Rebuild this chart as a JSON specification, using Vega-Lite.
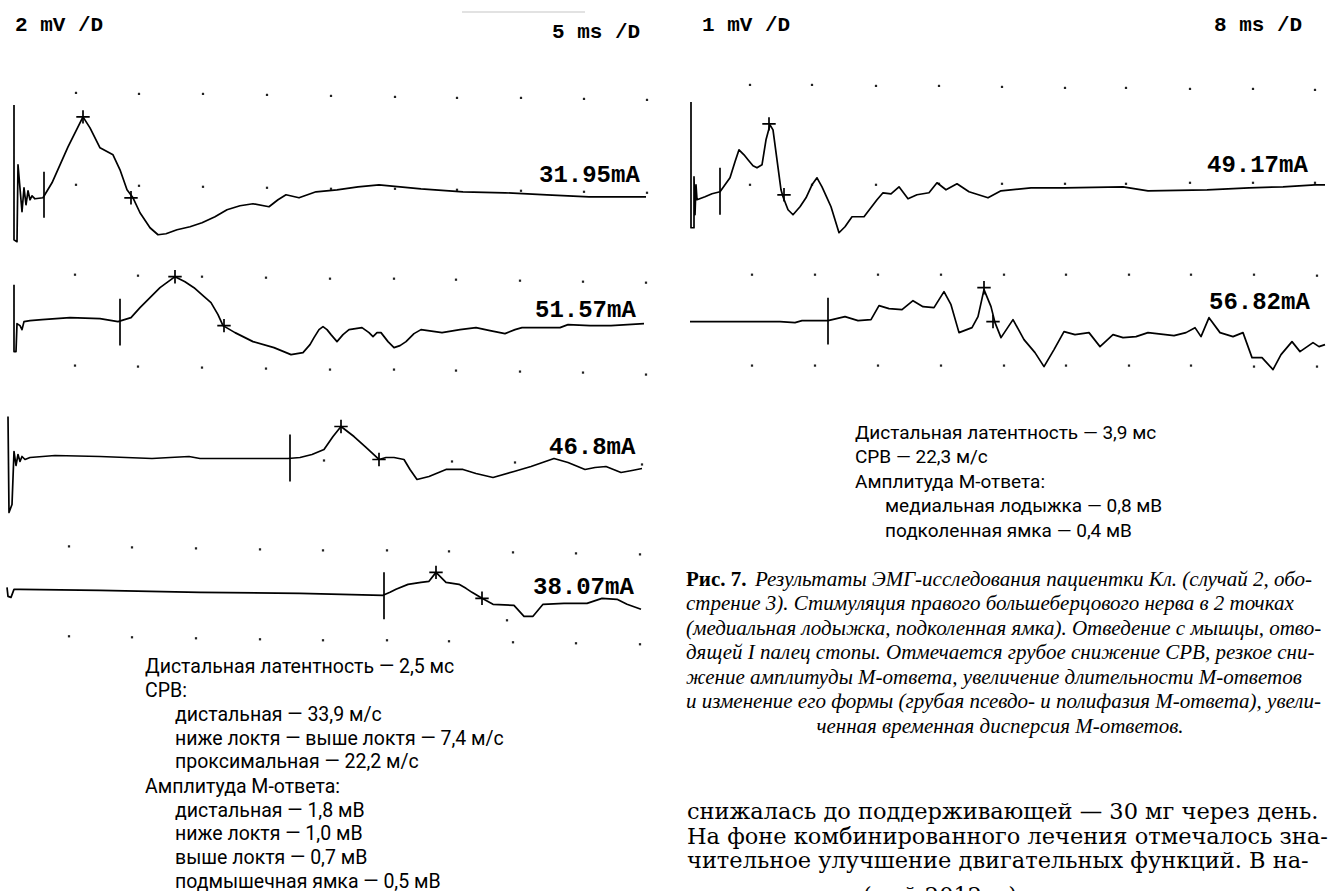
{
  "$schema": "https://vega.github.io/schema/vega-lite/v6.json",
  "width": 1329,
  "height": 892,
  "autosize": {"type": "fit", "contains": "padding"},
  "padding": 0,
  "background": "white",
  "config": {"view": {"stroke": null}},
  "datasets": {
    "dots": [
      {"x":76,"y":93},{"x":139,"y":94},{"x":203,"y":94},{"x":267,"y":95},{"x":331,"y":96},{"x":395,"y":97},{"x":457,"y":98},{"x":521,"y":98},{"x":584,"y":99},{"x":647,"y":100},
      {"x":76,"y":185},{"x":139,"y":186},{"x":203,"y":187},{"x":267,"y":188},{"x":331,"y":189},{"x":395,"y":189},{"x":457,"y":190},{"x":521,"y":191},{"x":584,"y":192},{"x":647,"y":193},
      {"x":75,"y":275},{"x":138,"y":276},{"x":202,"y":277},{"x":266,"y":278},{"x":330,"y":279},{"x":394,"y":279},{"x":456,"y":280},{"x":520,"y":281},{"x":583,"y":282},{"x":646,"y":283},
      {"x":75,"y":366},{"x":138,"y":367},{"x":202,"y":368},{"x":266,"y":369},{"x":330,"y":370},{"x":394,"y":370},{"x":456,"y":371},{"x":520,"y":372},{"x":583,"y":373},{"x":646,"y":375},
      {"x":324,"y":461},{"x":452,"y":462},{"x":515,"y":463},{"x":642,"y":465},
      {"x":69,"y":547},{"x":132,"y":548},{"x":196,"y":549},{"x":260,"y":550},{"x":323,"y":551},{"x":387,"y":551},{"x":449,"y":552},{"x":513,"y":553},{"x":576,"y":554},{"x":640,"y":555},
      {"x":507,"y":621},
      {"x":69,"y":637},{"x":132,"y":638},{"x":196,"y":639},{"x":260,"y":640},{"x":323,"y":641},{"x":387,"y":641},{"x":449,"y":642},{"x":513,"y":643},{"x":576,"y":644},{"x":640,"y":645},
      {"x":750,"y":85},{"x":812,"y":85},{"x":876,"y":86},{"x":939,"y":86},{"x":1002,"y":87},{"x":1065,"y":88},{"x":1126,"y":88},{"x":1190,"y":89},{"x":1253,"y":89},{"x":1315,"y":90},
      {"x":750,"y":185},{"x":812,"y":185},{"x":876,"y":185},{"x":939,"y":184},{"x":1002,"y":184},{"x":1065,"y":184},{"x":1126,"y":184},{"x":1190,"y":183},{"x":1253,"y":183},{"x":1315,"y":183},
      {"x":752,"y":275},{"x":815,"y":275},{"x":878,"y":275},{"x":941,"y":275},{"x":1004,"y":275},{"x":1066,"y":275},{"x":1129,"y":275},{"x":1191,"y":275},{"x":1254,"y":275},{"x":1317,"y":276},
      {"x":752,"y":366},{"x":815,"y":366},{"x":878,"y":366},{"x":941,"y":366},{"x":1004,"y":366},{"x":1066,"y":366},{"x":1129,"y":366},{"x":1191,"y":366},{"x":1254,"y":367},{"x":1317,"y":367}
    ],
    "traces": [
      {"t":"A","i":0,"x":14,"y":105},{"t":"A","i":1,"x":14,"y":240},{"t":"A","i":2,"x":17,"y":242},{"t":"A","i":3,"x":18,"y":165},{"t":"A","i":4,"x":22,"y":212},{"t":"A","i":5,"x":24,"y":188},{"t":"A","i":6,"x":26,"y":205},{"t":"A","i":7,"x":28,"y":191},{"t":"A","i":8,"x":30,"y":200},{"t":"A","i":9,"x":32,"y":196},{"t":"A","i":10,"x":35,"y":199},{"t":"A","i":11,"x":43,"y":198},{"t":"A","i":12,"x":52,"y":183},{"t":"A","i":13,"x":60,"y":165},{"t":"A","i":14,"x":68,"y":147},{"t":"A","i":15,"x":76,"y":131},{"t":"A","i":16,"x":83,"y":117},{"t":"A","i":17,"x":90,"y":128},{"t":"A","i":18,"x":100,"y":148},{"t":"A","i":19,"x":113,"y":155},{"t":"A","i":20,"x":120,"y":170},{"t":"A","i":21,"x":127,"y":190},{"t":"A","i":22,"x":133,"y":198},{"t":"A","i":23,"x":140,"y":213},{"t":"A","i":24,"x":150,"y":228},{"t":"A","i":25,"x":158,"y":235},{"t":"A","i":26,"x":166,"y":234},{"t":"A","i":27,"x":177,"y":230},{"t":"A","i":28,"x":190,"y":227},{"t":"A","i":29,"x":202,"y":223},{"t":"A","i":30,"x":215,"y":217},{"t":"A","i":31,"x":227,"y":210},{"t":"A","i":32,"x":240,"y":206},{"t":"A","i":33,"x":253,"y":204},{"t":"A","i":34,"x":269,"y":207},{"t":"A","i":35,"x":278,"y":200},{"t":"A","i":36,"x":286,"y":195},{"t":"A","i":37,"x":299,"y":198},{"t":"A","i":38,"x":316,"y":192},{"t":"A","i":39,"x":337,"y":190},{"t":"A","i":40,"x":358,"y":187},{"t":"A","i":41,"x":379,"y":185},{"t":"A","i":42,"x":400,"y":187},{"t":"A","i":43,"x":421,"y":189},{"t":"A","i":44,"x":463,"y":192},{"t":"A","i":45,"x":505,"y":193},{"t":"A","i":46,"x":547,"y":195},{"t":"A","i":47,"x":589,"y":197},{"t":"A","i":48,"x":646,"y":197},
      {"t":"B","i":0,"x":14,"y":285},{"t":"B","i":1,"x":14,"y":352},{"t":"B","i":2,"x":16,"y":352},{"t":"B","i":3,"x":17,"y":324},{"t":"B","i":4,"x":20,"y":326},{"t":"B","i":5,"x":22,"y":330},{"t":"B","i":6,"x":24,"y":322},{"t":"B","i":7,"x":30,"y":321},{"t":"B","i":8,"x":42,"y":320},{"t":"B","i":9,"x":70,"y":318},{"t":"B","i":10,"x":100,"y":319},{"t":"B","i":11,"x":118,"y":322},{"t":"B","i":12,"x":131,"y":318},{"t":"B","i":13,"x":140,"y":308},{"t":"B","i":14,"x":148,"y":300},{"t":"B","i":15,"x":160,"y":288},{"t":"B","i":16,"x":175,"y":277},{"t":"B","i":17,"x":185,"y":282},{"t":"B","i":18,"x":194,"y":288},{"t":"B","i":19,"x":203,"y":296},{"t":"B","i":20,"x":211,"y":303},{"t":"B","i":21,"x":218,"y":315},{"t":"B","i":22,"x":223,"y":326},{"t":"B","i":23,"x":235,"y":333},{"t":"B","i":24,"x":253,"y":342},{"t":"B","i":25,"x":274,"y":348},{"t":"B","i":26,"x":291,"y":355},{"t":"B","i":27,"x":303,"y":353},{"t":"B","i":28,"x":310,"y":345},{"t":"B","i":29,"x":314,"y":338},{"t":"B","i":30,"x":319,"y":330},{"t":"B","i":31,"x":323,"y":327},{"t":"B","i":32,"x":327,"y":330},{"t":"B","i":33,"x":331,"y":335},{"t":"B","i":34,"x":337,"y":342},{"t":"B","i":35,"x":343,"y":335},{"t":"B","i":36,"x":349,"y":330},{"t":"B","i":37,"x":362,"y":328},{"t":"B","i":38,"x":369,"y":333},{"t":"B","i":39,"x":373,"y":337},{"t":"B","i":40,"x":377,"y":333},{"t":"B","i":41,"x":381,"y":333},{"t":"B","i":42,"x":388,"y":342},{"t":"B","i":43,"x":394,"y":348},{"t":"B","i":44,"x":400,"y":346},{"t":"B","i":45,"x":406,"y":342},{"t":"B","i":46,"x":414,"y":334},{"t":"B","i":47,"x":421,"y":330},{"t":"B","i":48,"x":442,"y":333},{"t":"B","i":49,"x":460,"y":330},{"t":"B","i":50,"x":476,"y":328},{"t":"B","i":51,"x":490,"y":331},{"t":"B","i":52,"x":505,"y":334},{"t":"B","i":53,"x":515,"y":330},{"t":"B","i":54,"x":522,"y":328},{"t":"B","i":55,"x":545,"y":328},{"t":"B","i":56,"x":560,"y":328},{"t":"B","i":57,"x":568,"y":325},{"t":"B","i":58,"x":590,"y":326},{"t":"B","i":59,"x":611,"y":326},{"t":"B","i":60,"x":644,"y":324},
      {"t":"C","i":0,"x":8,"y":417},{"t":"C","i":1,"x":9,"y":513},{"t":"C","i":2,"x":12,"y":505},{"t":"C","i":3,"x":14,"y":452},{"t":"C","i":4,"x":16,"y":466},{"t":"C","i":5,"x":18,"y":455},{"t":"C","i":6,"x":20,"y":462},{"t":"C","i":7,"x":22,"y":457},{"t":"C","i":8,"x":25,"y":460},{"t":"C","i":9,"x":30,"y":458},{"t":"C","i":10,"x":55,"y":456},{"t":"C","i":11,"x":100,"y":457},{"t":"C","i":12,"x":152,"y":459},{"t":"C","i":13,"x":170,"y":458},{"t":"C","i":14,"x":189,"y":457},{"t":"C","i":15,"x":200,"y":459},{"t":"C","i":16,"x":250,"y":459},{"t":"C","i":17,"x":288,"y":459},{"t":"C","i":18,"x":300,"y":458},{"t":"C","i":19,"x":312,"y":455},{"t":"C","i":20,"x":324,"y":450},{"t":"C","i":21,"x":333,"y":437},{"t":"C","i":22,"x":341,"y":427},{"t":"C","i":23,"x":354,"y":437},{"t":"C","i":24,"x":366,"y":448},{"t":"C","i":25,"x":379,"y":460},{"t":"C","i":26,"x":386,"y":458},{"t":"C","i":27,"x":394,"y":458},{"t":"C","i":28,"x":404,"y":460},{"t":"C","i":29,"x":410,"y":470},{"t":"C","i":30,"x":417,"y":480},{"t":"C","i":31,"x":429,"y":477},{"t":"C","i":32,"x":446,"y":470},{"t":"C","i":33,"x":463,"y":470},{"t":"C","i":34,"x":476,"y":474},{"t":"C","i":35,"x":493,"y":478},{"t":"C","i":36,"x":514,"y":472},{"t":"C","i":37,"x":531,"y":467},{"t":"C","i":38,"x":554,"y":459},{"t":"C","i":39,"x":568,"y":463},{"t":"C","i":40,"x":585,"y":470},{"t":"C","i":41,"x":595,"y":468},{"t":"C","i":42,"x":606,"y":467},{"t":"C","i":43,"x":621,"y":473},{"t":"C","i":44,"x":632,"y":471},{"t":"C","i":45,"x":642,"y":469},
      {"t":"D","i":0,"x":7,"y":588},{"t":"D","i":1,"x":8,"y":597},{"t":"D","i":2,"x":11,"y":598},{"t":"D","i":3,"x":14,"y":590},{"t":"D","i":4,"x":20,"y":590},{"t":"D","i":5,"x":100,"y":591},{"t":"D","i":6,"x":200,"y":593},{"t":"D","i":7,"x":300,"y":594},{"t":"D","i":8,"x":383,"y":596},{"t":"D","i":9,"x":390,"y":593},{"t":"D","i":10,"x":396,"y":590},{"t":"D","i":11,"x":408,"y":585},{"t":"D","i":12,"x":421,"y":583},{"t":"D","i":13,"x":429,"y":582},{"t":"D","i":14,"x":436,"y":573},{"t":"D","i":15,"x":446,"y":583},{"t":"D","i":16,"x":459,"y":585},{"t":"D","i":17,"x":466,"y":589},{"t":"D","i":18,"x":472,"y":593},{"t":"D","i":19,"x":482,"y":599},{"t":"D","i":20,"x":493,"y":605},{"t":"D","i":21,"x":514,"y":606},{"t":"D","i":22,"x":524,"y":617},{"t":"D","i":23,"x":533,"y":617},{"t":"D","i":24,"x":543,"y":605},{"t":"D","i":25,"x":564,"y":604},{"t":"D","i":26,"x":587,"y":604},{"t":"D","i":27,"x":602,"y":599},{"t":"D","i":28,"x":617,"y":600},{"t":"D","i":29,"x":627,"y":605},{"t":"D","i":30,"x":641,"y":610},
      {"t":"E","i":0,"x":691,"y":102},{"t":"E","i":1,"x":691,"y":228},{"t":"E","i":2,"x":694,"y":228},{"t":"E","i":3,"x":694,"y":177},{"t":"E","i":4,"x":695,"y":215},{"t":"E","i":5,"x":696,"y":185},{"t":"E","i":6,"x":697,"y":200},{"t":"E","i":7,"x":705,"y":197},{"t":"E","i":8,"x":712,"y":194},{"t":"E","i":9,"x":720,"y":192},{"t":"E","i":10,"x":725,"y":185},{"t":"E","i":11,"x":730,"y":178},{"t":"E","i":12,"x":735,"y":162},{"t":"E","i":13,"x":739,"y":150},{"t":"E","i":14,"x":744,"y":155},{"t":"E","i":15,"x":748,"y":160},{"t":"E","i":16,"x":753,"y":166},{"t":"E","i":17,"x":757,"y":168},{"t":"E","i":18,"x":762,"y":165},{"t":"E","i":19,"x":766,"y":140},{"t":"E","i":20,"x":770,"y":125},{"t":"E","i":21,"x":773,"y":130},{"t":"E","i":22,"x":777,"y":160},{"t":"E","i":23,"x":781,"y":190},{"t":"E","i":24,"x":783,"y":197},{"t":"E","i":25,"x":788,"y":210},{"t":"E","i":26,"x":793,"y":215},{"t":"E","i":27,"x":800,"y":207},{"t":"E","i":28,"x":806,"y":198},{"t":"E","i":29,"x":812,"y":185},{"t":"E","i":30,"x":817,"y":178},{"t":"E","i":31,"x":822,"y":187},{"t":"E","i":32,"x":827,"y":198},{"t":"E","i":33,"x":831,"y":207},{"t":"E","i":34,"x":835,"y":220},{"t":"E","i":35,"x":839,"y":233},{"t":"E","i":36,"x":845,"y":227},{"t":"E","i":37,"x":852,"y":217},{"t":"E","i":38,"x":864,"y":217},{"t":"E","i":39,"x":877,"y":200},{"t":"E","i":40,"x":883,"y":193},{"t":"E","i":41,"x":891,"y":194},{"t":"E","i":42,"x":899,"y":187},{"t":"E","i":43,"x":908,"y":199},{"t":"E","i":44,"x":917,"y":195},{"t":"E","i":45,"x":929,"y":193},{"t":"E","i":46,"x":937,"y":183},{"t":"E","i":47,"x":946,"y":190},{"t":"E","i":48,"x":957,"y":184},{"t":"E","i":49,"x":969,"y":192},{"t":"E","i":50,"x":988,"y":198},{"t":"E","i":51,"x":1001,"y":191},{"t":"E","i":52,"x":1031,"y":188},{"t":"E","i":53,"x":1064,"y":188},{"t":"E","i":54,"x":1123,"y":187},{"t":"E","i":55,"x":1148,"y":191},{"t":"E","i":56,"x":1207,"y":190},{"t":"E","i":57,"x":1249,"y":188},{"t":"E","i":58,"x":1283,"y":187},{"t":"E","i":59,"x":1315,"y":185},{"t":"E","i":60,"x":1325,"y":185},
      {"t":"F","i":0,"x":690,"y":322},{"t":"F","i":1,"x":740,"y":322},{"t":"F","i":2,"x":780,"y":322},{"t":"F","i":3,"x":795,"y":323},{"t":"F","i":4,"x":802,"y":321},{"t":"F","i":5,"x":828,"y":321},{"t":"F","i":6,"x":845,"y":317},{"t":"F","i":7,"x":858,"y":321},{"t":"F","i":8,"x":871,"y":320},{"t":"F","i":9,"x":879,"y":306},{"t":"F","i":10,"x":889,"y":309},{"t":"F","i":11,"x":902,"y":310},{"t":"F","i":12,"x":913,"y":301},{"t":"F","i":13,"x":923,"y":307},{"t":"F","i":14,"x":934,"y":308},{"t":"F","i":15,"x":944,"y":292},{"t":"F","i":16,"x":951,"y":305},{"t":"F","i":17,"x":959,"y":333},{"t":"F","i":18,"x":972,"y":328},{"t":"F","i":19,"x":978,"y":317},{"t":"F","i":20,"x":984,"y":290},{"t":"F","i":21,"x":991,"y":307},{"t":"F","i":22,"x":995,"y":323},{"t":"F","i":23,"x":1001,"y":338},{"t":"F","i":24,"x":1013,"y":320},{"t":"F","i":25,"x":1024,"y":340},{"t":"F","i":26,"x":1035,"y":353},{"t":"F","i":27,"x":1044,"y":367},{"t":"F","i":28,"x":1054,"y":350},{"t":"F","i":29,"x":1064,"y":332},{"t":"F","i":30,"x":1075,"y":335},{"t":"F","i":31,"x":1089,"y":333},{"t":"F","i":32,"x":1100,"y":347},{"t":"F","i":33,"x":1113,"y":335},{"t":"F","i":34,"x":1123,"y":338},{"t":"F","i":35,"x":1136,"y":337},{"t":"F","i":36,"x":1148,"y":333},{"t":"F","i":37,"x":1174,"y":336},{"t":"F","i":38,"x":1186,"y":333},{"t":"F","i":39,"x":1195,"y":328},{"t":"F","i":40,"x":1201,"y":337},{"t":"F","i":41,"x":1209,"y":318},{"t":"F","i":42,"x":1220,"y":333},{"t":"F","i":43,"x":1233,"y":337},{"t":"F","i":44,"x":1243,"y":333},{"t":"F","i":45,"x":1252,"y":358},{"t":"F","i":46,"x":1262,"y":358},{"t":"F","i":47,"x":1273,"y":370},{"t":"F","i":48,"x":1281,"y":355},{"t":"F","i":49,"x":1292,"y":342},{"t":"F","i":50,"x":1300,"y":352},{"t":"F","i":51,"x":1313,"y":343},{"t":"F","i":52,"x":1319,"y":347},{"t":"F","i":53,"x":1325,"y":345}
    ],
    "markers": [
      {"x":44,"y":172,"y2":218},{"x":120,"y":299,"y2":346},{"x":290,"y":435,"y2":482},{"x":384,"y":573,"y2":620},{"x":720,"y":168,"y2":215},{"x":828,"y":298,"y2":345}
    ],
    "crosses": [
      {"x":83,"y":117},{"x":131,"y":198},{"x":175,"y":277},{"x":224,"y":326},{"x":341,"y":427},{"x":379,"y":460},{"x":436,"y":573},{"x":482,"y":599},{"x":769,"y":124},{"x":784,"y":195},{"x":984,"y":288},{"x":993,"y":322}
    ],
    "labels": [
      {"g":"scale","x":15,"y":25,"text":"2 mV /D"},
      {"g":"scale","x":552,"y":32,"text":"5 ms /D"},
      {"g":"scale","x":702,"y":25,"text":"1 mV /D"},
      {"g":"scale","x":1214,"y":25,"text":"8 ms /D"},
      {"g":"ma","x":539,"y":175,"text":"31.95mA"},
      {"g":"ma","x":535,"y":310,"text":"51.57mA"},
      {"g":"ma","x":549,"y":448,"text":"46.8mA"},
      {"g":"ma","x":533,"y":588,"text":"38.07mA"},
      {"g":"ma","x":1207,"y":165,"text":"49.17mA"},
      {"g":"ma","x":1209,"y":302,"text":"56.82mA"},
      {"g":"sansL","x":145,"y":668,"text":"Дистальная латентность — 2,5 мс"},
      {"g":"sansL","x":145,"y":692,"text":"СРВ:"},
      {"g":"sansL","x":175,"y":716,"text":"дистальная — 33,9 м/с"},
      {"g":"sansL","x":175,"y":740,"text":"ниже локтя — выше локтя — 7,4 м/с"},
      {"g":"sansL","x":175,"y":763,"text":"проксимальная — 22,2 м/с"},
      {"g":"sansL","x":145,"y":788,"text":"Амплитуда М-ответа:"},
      {"g":"sansL","x":175,"y":812,"text":"дистальная — 1,8 мВ"},
      {"g":"sansL","x":175,"y":835,"text":"ниже локтя — 1,0 мВ"},
      {"g":"sansL","x":175,"y":859,"text":"выше локтя — 0,7 мВ"},
      {"g":"sansL","x":175,"y":883,"text":"подмышечная ямка — 0,5 мВ"},
      {"g":"sansR","x":855,"y":433,"text":"Дистальная латентность — 3,9 мс"},
      {"g":"sansR","x":855,"y":458,"text":"СРВ — 22,3 м/с"},
      {"g":"sansR","x":855,"y":483,"text":"Амплитуда М-ответа:"},
      {"g":"sansR","x":885,"y":507,"text":"медиальная лодыжка — 0,8 мВ"},
      {"g":"sansR","x":885,"y":532,"text":"подколенная ямка — 0,4 мВ"},
      {"g":"capb","x":686,"y":581,"text":"Рис. 7."},
      {"g":"capi","x":755,"y":581,"text":"Результаты ЭМГ-исследования пациентки Кл. (случай 2, обо-"},
      {"g":"capi","x":686,"y":605,"text":"стрение 3). Стимуляция правого большеберцового нерва в 2 точках"},
      {"g":"capi","x":686,"y":630,"text":"(медиальная лодыжка, подколенная ямка). Отведение с мышцы, отво-"},
      {"g":"capi","x":686,"y":654,"text":"дящей I палец стопы. Отмечается грубое снижение СРВ, резкое сни-"},
      {"g":"capi","x":686,"y":679,"text":"жение амплитуды М-ответа, увеличение длительности М-ответов"},
      {"g":"capi","x":686,"y":703,"text":"и изменение его формы (грубая псевдо- и полифазия М-ответа), увели-"},
      {"g":"capc","x":1000,"y":728,"text":"ченная временная дисперсия М-ответов."},
      {"g":"body","x":687,"y":813,"text":"снижалась до поддерживающей — 30 мг через день."},
      {"g":"body","x":687,"y":838,"text":"На фоне комбинированного лечения отмечалось зна-"},
      {"g":"body","x":687,"y":862,"text":"чительное улучшение двигательных функций. В на-"},
      {"g":"body","x":863,"y":897,"text":"(май 2012 г.)"}
    ],
    "faint": [{"x":462,"x2":585,"y":12}]
  },
  "data": {"name": "dots"},
  "encoding": {
    "x": {"field": "x", "type": "quantitative", "scale": {"domain": [0, 1329], "nice": false, "zero": false}, "axis": null},
    "y": {"field": "y", "type": "quantitative", "scale": {"domain": [0, 892], "nice": false, "zero": false, "reverse": true}, "axis": null}
  },
  "layer": [
    {"data": {"name": "faint"}, "mark": {"type": "rule", "color": "#d8d8d8", "strokeWidth": 1.5}, "encoding": {"x2": {"field": "x2"}}},
    {"data": {"name": "dots"}, "mark": {"type": "square", "size": 5, "color": "#222", "opacity": 1}},
    {"data": {"name": "traces"}, "mark": {"type": "line", "color": "black", "strokeWidth": 1.7, "strokeJoin": "round"}, "encoding": {"detail": {"field": "t"}, "order": {"field": "i", "type": "quantitative"}}},
    {"data": {"name": "markers"}, "mark": {"type": "rule", "color": "black", "strokeWidth": 1.7}, "encoding": {"y2": {"field": "y2"}}},
    {"data": {"name": "crosses"}, "mark": {"type": "point", "shape": "M-1,0L1,0M0,-1L0,1", "filled": false, "size": 180, "strokeWidth": 1.7, "color": "black", "opacity": 1}},
    {"data": {"name": "labels"}, "transform": [{"filter": "datum.g == 'scale'"}], "mark": {"type": "text", "align": "left", "baseline": "middle", "font": "Liberation Mono", "fontWeight": "bold", "fontSize": 21, "color": "black"}, "encoding": {"text": {"field": "text"}}},
    {"data": {"name": "labels"}, "transform": [{"filter": "datum.g == 'ma'"}], "mark": {"type": "text", "align": "left", "baseline": "middle", "font": "Liberation Mono", "fontWeight": "bold", "fontSize": 24, "color": "black"}, "encoding": {"text": {"field": "text"}}},
    {"data": {"name": "labels"}, "transform": [{"filter": "datum.g == 'sansL'"}], "mark": {"type": "text", "align": "left", "baseline": "middle", "font": "Roboto", "fontSize": 19.5, "color": "black"}, "encoding": {"text": {"field": "text"}}},
    {"data": {"name": "labels"}, "transform": [{"filter": "datum.g == 'sansR'"}], "mark": {"type": "text", "align": "left", "baseline": "middle", "font": "Roboto", "fontSize": 19, "color": "black"}, "encoding": {"text": {"field": "text"}}},
    {"data": {"name": "labels"}, "transform": [{"filter": "datum.g == 'capb'"}], "mark": {"type": "text", "align": "left", "baseline": "middle", "font": "Liberation Serif", "fontWeight": "bold", "fontSize": 21, "color": "black"}, "encoding": {"text": {"field": "text"}}},
    {"data": {"name": "labels"}, "transform": [{"filter": "datum.g == 'capi'"}], "mark": {"type": "text", "align": "left", "baseline": "middle", "font": "Liberation Serif", "fontStyle": "italic", "fontSize": 21, "color": "black"}, "encoding": {"text": {"field": "text"}}},
    {"data": {"name": "labels"}, "transform": [{"filter": "datum.g == 'capc'"}], "mark": {"type": "text", "align": "center", "baseline": "middle", "font": "Liberation Serif", "fontStyle": "italic", "fontSize": 21, "color": "black"}, "encoding": {"text": {"field": "text"}}},
    {"data": {"name": "labels"}, "transform": [{"filter": "datum.g == 'body'"}], "mark": {"type": "text", "align": "left", "baseline": "middle", "font": "DejaVu Serif", "fontSize": 22.5, "color": "black", "clip": true}, "encoding": {"text": {"field": "text"}}}
  ]
}
